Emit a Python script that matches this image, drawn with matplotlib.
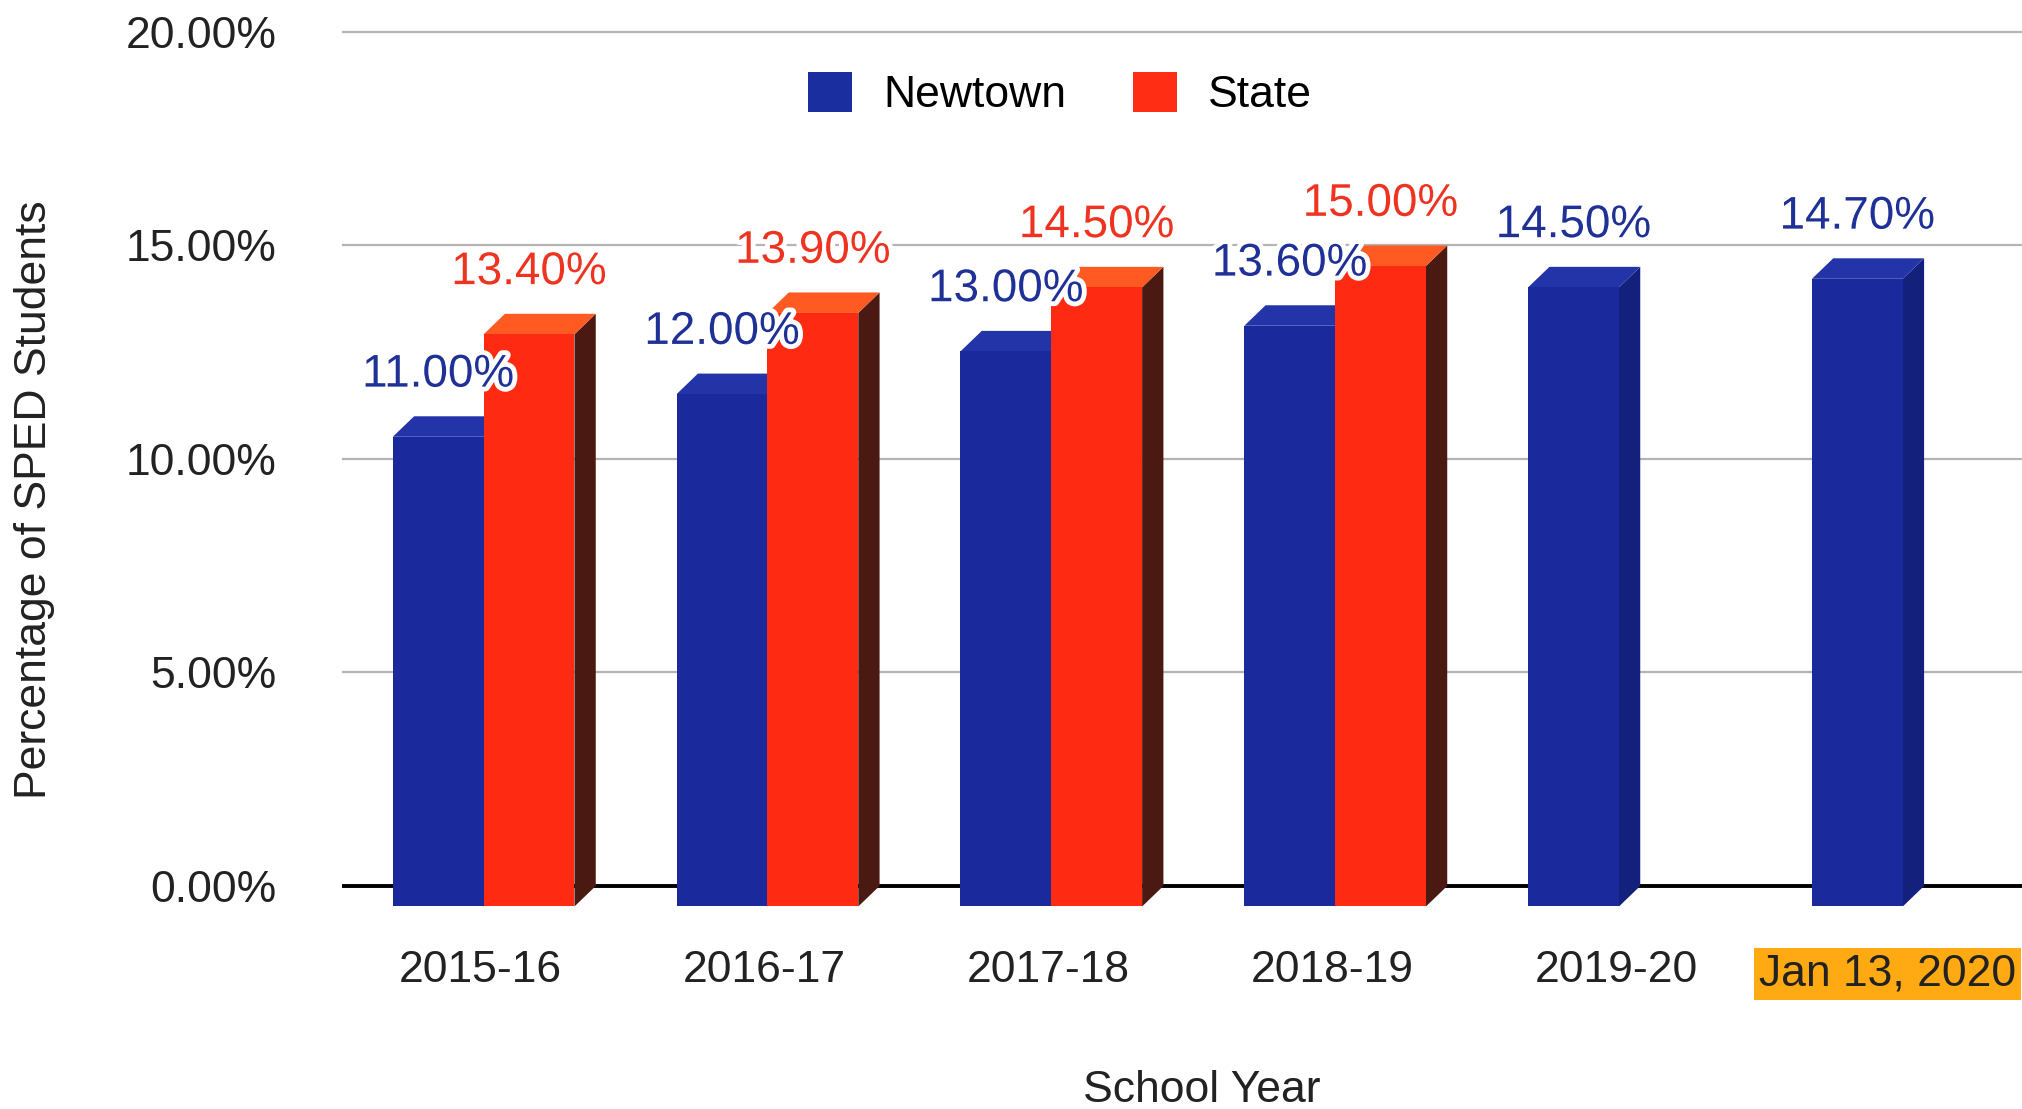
import matplotlib
matplotlib.use("Agg")
import matplotlib.pyplot as plt
import matplotlib.patheffects as pe
from matplotlib.patches import Polygon, Patch
from matplotlib.transforms import blended_transform_factory

# data
years = ["2015-16", "2016-17", "2017-18", "2018-19", "2019-20", "Jan 13, 2020"]
newtown = [11.0, 12.0, 13.0, 13.6, 14.5, 14.7]
state = [13.4, 13.9, 14.5, 15.0, None, None]
yticks = [0, 5, 10, 15, 20]

plt.rcParams['font.family'] = ['Liberation Sans', 'DejaVu Sans']

# 3d look: depth of the bars in data units
dx = 0.075
dy = 0.48
w = 0.32
x_blue = -0.31   # left edge of the blue front face, relative to the group
x_red = x_blue + w

blue_front, blue_top, blue_side = '#1a299c', '#2334a8', '#13207c'
red_front, red_top, red_side = '#ff2a12', '#ff5a22', '#4a1a12'
blue_txt, red_txt = '#1f3096', '#ee3320'

fig = plt.figure(figsize=(20.22, 11.09), dpi=100)
ax = fig.add_axes([0.169, 0.1549, 0.831, 0.8355])
ax.set_xlim(-0.49, 5.43)
ax.set_ylim(-1.2, 20.5)

for v in yticks[1:]:
    ax.axhline(v, color='#b4b4b4', lw=1.6, zorder=0)
ax.axhline(0, color='black', lw=2.8, zorder=0.5)


def bar3d(xl, v, front, top, side):
    xr = xl + w
    ax.add_patch(Polygon([(xr, -dy), (xr + dx, 0), (xr + dx, v), (xr, v - dy)],
                         closed=True, fc=side, ec='none', zorder=2))
    ax.add_patch(Polygon([(xl, v - dy), (xr, v - dy), (xr + dx, v), (xl + dx, v)],
                         closed=True, fc=top, ec='none', zorder=2))
    ax.bar(xl, v, width=w, bottom=-dy, align='edge', color=front, zorder=2)


label_kw = dict(ha='center', va='center', fontsize=33,
                textcoords='offset points', zorder=5,
                path_effects=[pe.withStroke(linewidth=7, foreground='white')])

for i, (n, s) in enumerate(zip(newtown, state)):
    bar3d(i + x_blue, n, blue_front, blue_top, blue_side)
    if s is not None:
        bar3d(i + x_red, s, red_front, red_top, red_side)
for i, (n, s) in enumerate(zip(newtown, state)):
    ax.annotate(f"{n:.2f}%", xy=(i + x_blue + w / 2, n), xytext=(0, 30),
                color=blue_txt, **label_kw)
    if s is not None:
        ax.annotate(f"{s:.2f}%", xy=(i + x_red + w / 2, s), xytext=(0, 30),
                    color=red_txt, **label_kw)

ax.set_yticks(yticks)
ax.set_yticklabels([f"{v:.2f}%" for v in yticks])
ax.tick_params(axis='y', length=0, pad=47, labelsize=32, labelcolor='#222222')
ax.set_xticks([])
trans = blended_transform_factory(ax.transData, ax.transAxes)
for i, lab in enumerate(years[:-1]):
    ax.text(i, -0.036, lab, transform=trans, ha='center', va='center',
            fontsize=32, color='#222222')
# last label sits against the right edge on an orange highlight
fig.text(2016 / 2022, 1 - 974 / 1109, years[-1], ha='right', va='center',
         fontsize=32, color='#222222',
         bbox=dict(boxstyle='square,pad=0.12', fc='#ffaa12', ec='none'))

for sp in ax.spines.values():
    sp.set_visible(False)

fig.text(35 / 2022, 1 - 500 / 1109, "Percentage of SPED Students", rotation=90,
         ha='center', va='center', fontsize=32, color='#222222')
fig.text(1202 / 2022, 1 - 1090 / 1109, "School Year", ha='center', va='center',
         fontsize=32, color='#222222')

handles = [Patch(fc='#1a2ea0', label='Newtown'), Patch(fc='#ff2d14', label='State')]
fig.legend(handles=handles, loc='center', bbox_to_anchor=(1060 / 2022, 1 - 94 / 1109),
           ncol=2, frameon=False, fontsize=32, handlelength=1.0, handleheight=1.0,
           handletextpad=0.7, columnspacing=1.5)

fig.savefig("out.png", dpi=100, facecolor='white')
